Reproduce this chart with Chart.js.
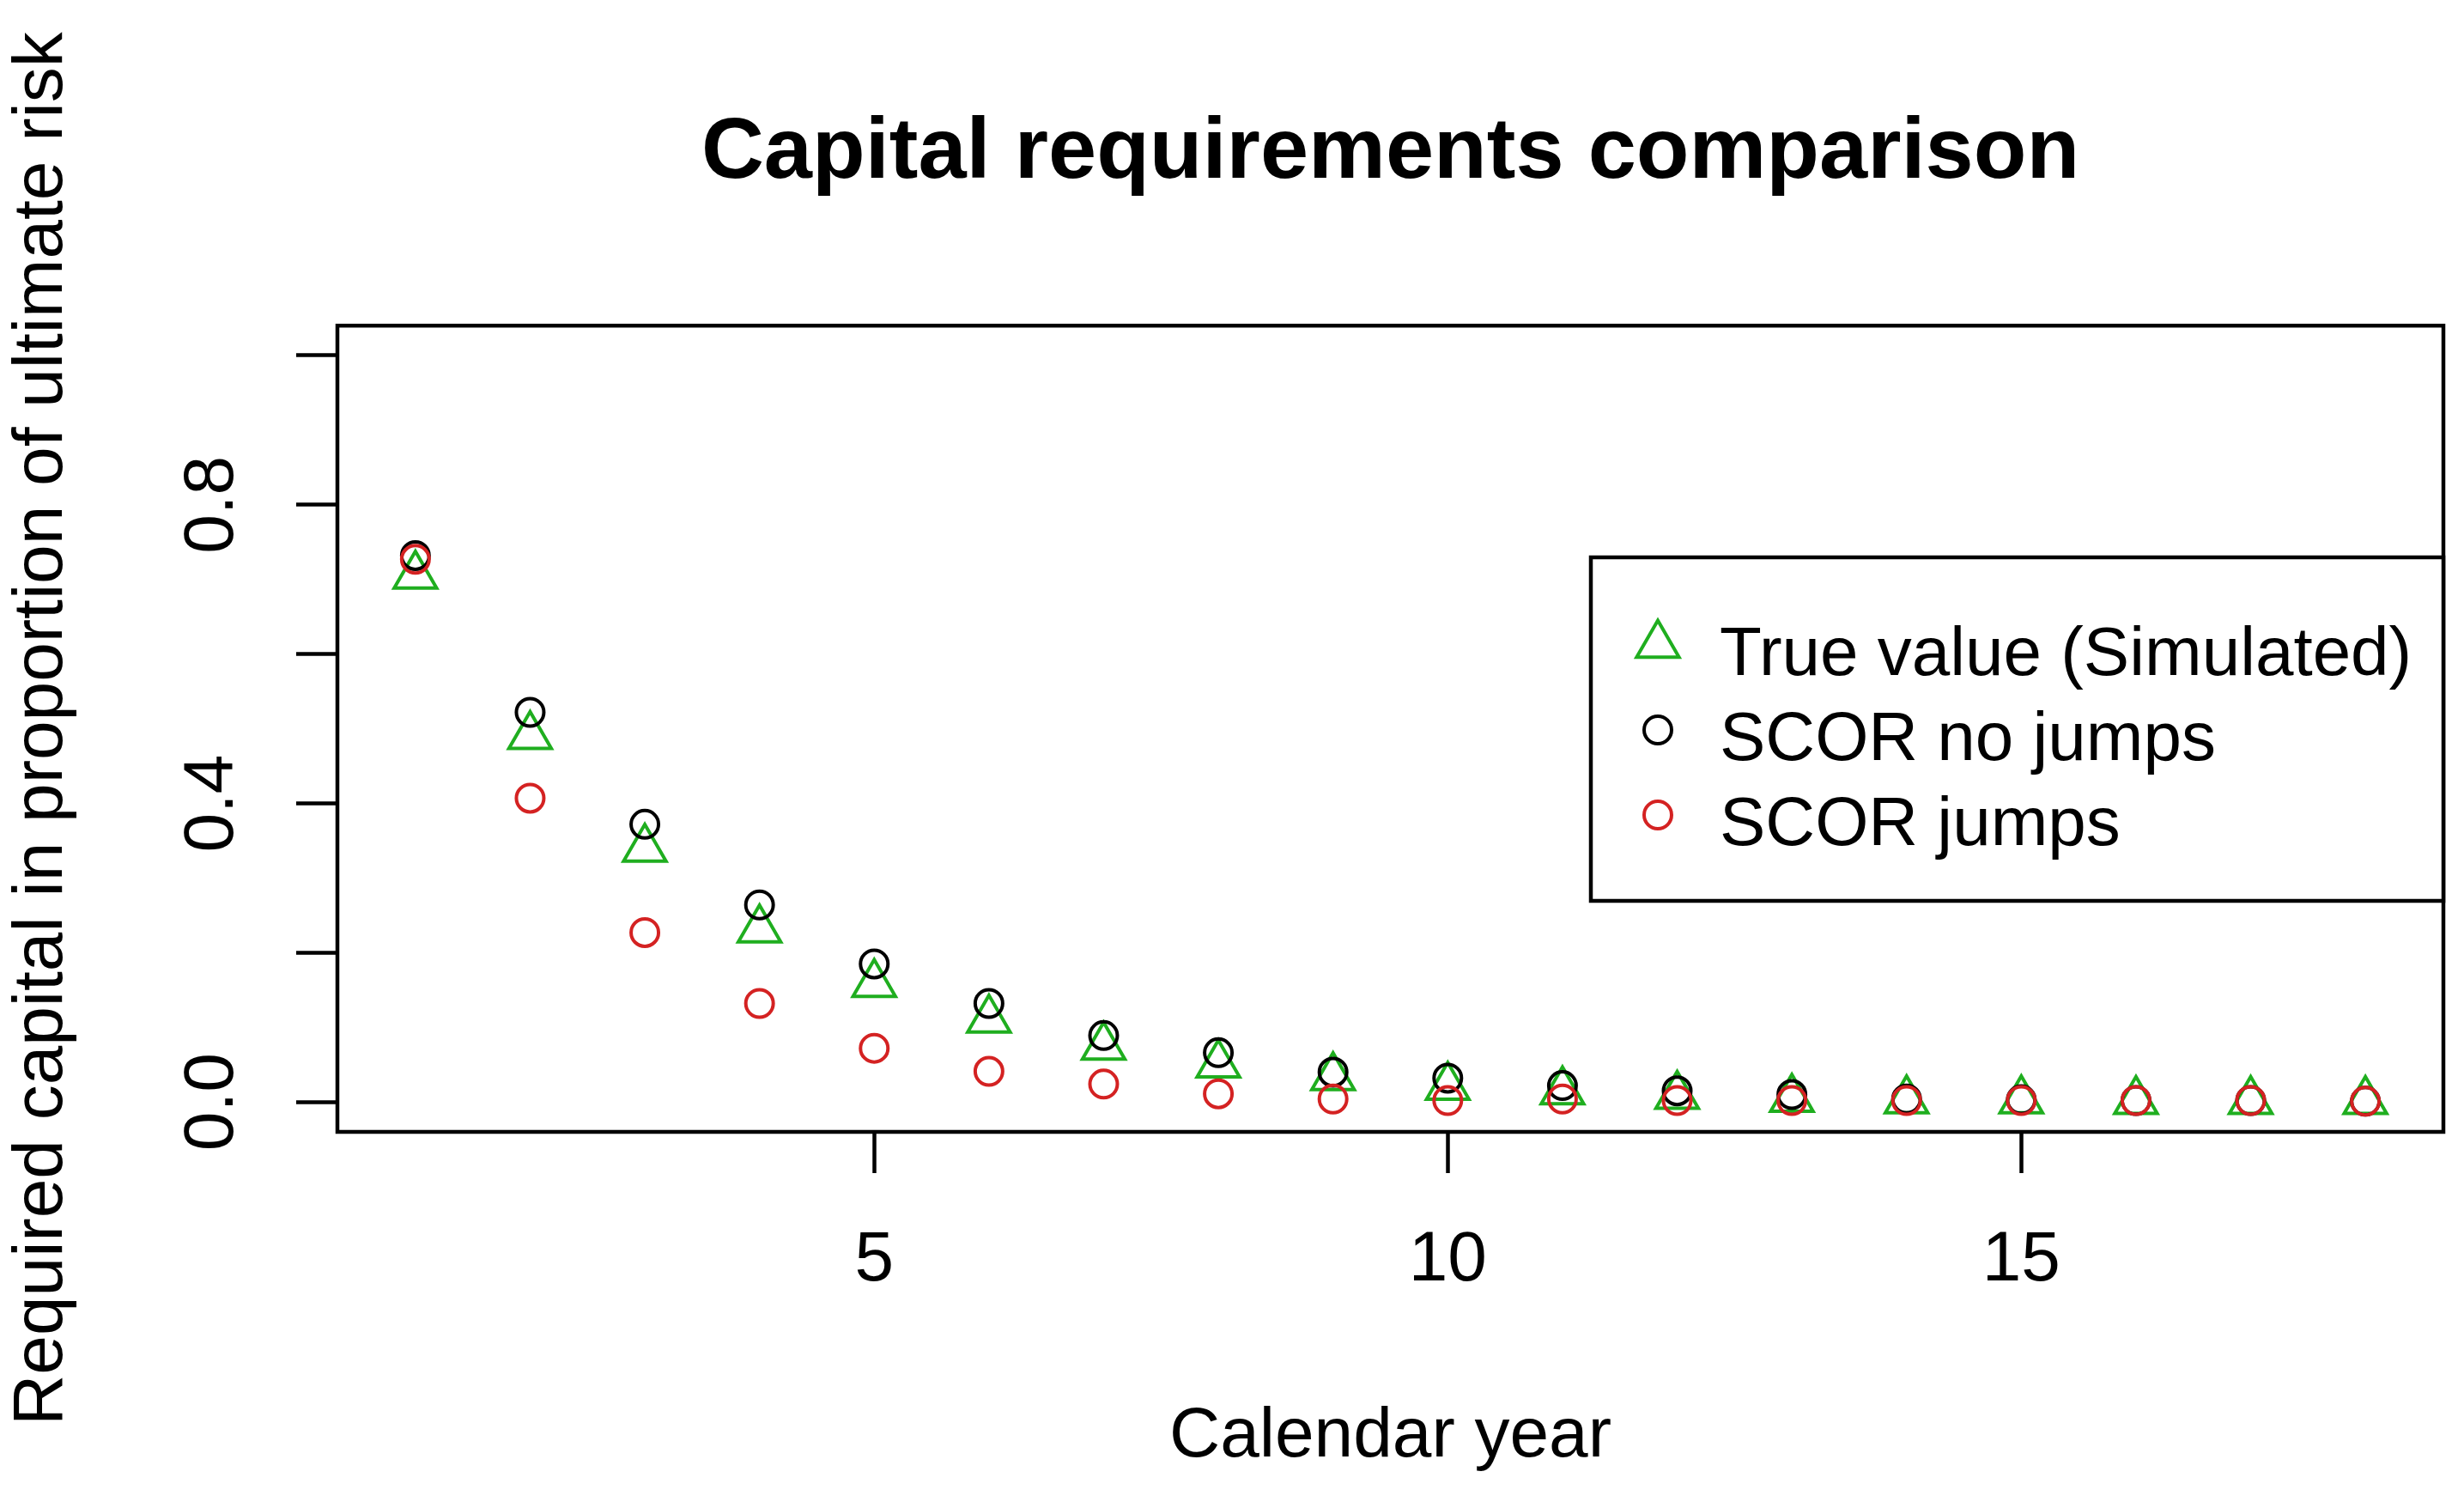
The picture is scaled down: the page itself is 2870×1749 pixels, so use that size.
<!DOCTYPE html>
<html>
<head>
<meta charset="utf-8">
<title>Capital requirements comparison</title>
<script src="https://cdn.jsdelivr.net/npm/chart.js@4.4.1/dist/chart.umd.min.js"></script>
<style>
  html, body { margin: 0; padding: 0; background: #fff; }
  #wrap { width: 2870px; height: 1749px; }
</style>
</head>
<body>
<div id="wrap"><canvas id="grafico-capital" width="2870" height="1749"></canvas></div>
<script>
// valores
const years = [1, 2, 3, 4, 5, 6, 7, 8, 9, 10, 11, 12, 13, 14, 15, 16, 17, 18];
const trueValue = [0.705, 0.490, 0.339, 0.231, 0.158, 0.110, 0.074, 0.050, 0.033, 0.020, 0.014, 0.008, 0.004, 0.002, 0.002, 0.001, 0.001, 0.001];
const scorNoJumps = [0.732, 0.522, 0.372, 0.264, 0.185, 0.132, 0.089, 0.066, 0.040, 0.032, 0.022, 0.015, 0.010, 0.004, 0.003, 0.002, 0.002, 0.001];
const scorJumps = [0.727, 0.407, 0.227, 0.132, 0.072, 0.041, 0.024, 0.011, 0.004, 0.002, 0.004, 0.002, 0.002, 0.002, 0.002, 0.002, 0.002, 0.001];
const seriesLabels = ['True value (Simulated)', 'SCOR no jumps', 'SCOR jumps'];
const xTicks = [5, 10, 15];
const yTicks = [0, 0.2, 0.4, 0.6, 0.8, 1.0];
const yTickLabels = ['0.0', '', '0.4', '', '0.8', ''];

const GREEN = '#1fae1f';
const RED = '#d42222';
const FONT = "'Liberation Sans', Arial, sans-serif";

function toPoints(values) {
  return years.map((x, i) => ({ x: x, y: values[i] }));
}

// moldura do gráfico (box() do R)
const plotBox = {
  id: 'plotBox',
  afterDraw(chart) {
    const { ctx, chartArea: a } = chart;
    ctx.save();
    ctx.strokeStyle = '#000';
    ctx.lineWidth = 4.5;
    ctx.strokeRect(a.left, a.top, a.right - a.left, a.bottom - a.top);
    ctx.restore();
  }
};

// legenda dentro do gráfico, com borda
const boxLegend = {
  id: 'boxLegend',
  afterDraw(chart) {
    const ctx = chart.ctx;
    const a = chart.chartArea;
    const left = 1853, top = 649, right = a.right, bottom = 1049;
    ctx.save();
    ctx.fillStyle = '#fff';
    ctx.fillRect(left, top, right - left, bottom - top);
    ctx.strokeStyle = '#000';
    ctx.lineWidth = 4.5;
    ctx.strokeRect(left, top, right - left, bottom - top);

    chart.data.datasets.forEach((ds, i) => {
      const base = 786 + i * 99;
      const mx = 1931, my = base - 35;
      ctx.strokeStyle = ds.borderColor;
      ctx.lineWidth = ds.borderWidth;
      ctx.beginPath();
      if (ds.pointStyle === 'triangle') {
        const r = ds.pointRadius;
        ctx.moveTo(mx, my - r);
        ctx.lineTo(mx + r * Math.sqrt(3) / 2, my + r / 2);
        ctx.lineTo(mx - r * Math.sqrt(3) / 2, my + r / 2);
        ctx.closePath();
      } else {
        ctx.arc(mx, my, ds.pointRadius, 0, Math.PI * 2);
      }
      ctx.stroke();

      ctx.fillStyle = '#000';
      ctx.font = '80px ' + FONT;
      ctx.textAlign = 'left';
      ctx.textBaseline = 'alphabetic';
      ctx.fillText(ds.label, 2003, base);
    });
    ctx.restore();
  }
};

new Chart(document.getElementById('grafico-capital'), {
  type: 'scatter',
  data: {
    datasets: [
      {
        label: seriesLabels[0],
        data: toPoints(trueValue),
        pointStyle: 'triangle',
        pointRadius: 28.5,
        borderColor: GREEN,
        backgroundColor: 'rgba(0,0,0,0)',
        borderWidth: 4,
        order: 3
      },
      {
        label: seriesLabels[1],
        data: toPoints(scorNoJumps),
        pointStyle: 'circle',
        pointRadius: 16,
        borderColor: '#000',
        backgroundColor: 'rgba(0,0,0,0)',
        borderWidth: 4,
        order: 2
      },
      {
        label: seriesLabels[2],
        data: toPoints(scorJumps),
        pointStyle: 'circle',
        pointRadius: 16,
        borderColor: RED,
        backgroundColor: 'rgba(0,0,0,0)',
        borderWidth: 4,
        order: 1
      }
    ]
  },
  options: {
    responsive: false,
    animation: false,
    devicePixelRatio: 1,
    layout: { autoPadding: false, padding: { top: 0, left: 0, right: 24, bottom: 0 } },
    plugins: {
      legend: { display: false },
      tooltip: { enabled: false },
      title: {
        display: true,
        text: 'Capital requirements comparison',
        fullSize: false,
        color: '#000',
        font: { family: FONT, size: 101, weight: 'bold', lineHeight: 1.2 },
        padding: { top: 119, bottom: 139 }
      }
    },
    scales: {
      x: {
        type: 'linear',
        position: 'bottom',
        min: 0.32,
        max: 18.68,
        afterBuildTicks: (scale) => { scale.ticks = xTicks.map(v => ({ value: v })); },
        afterFit: (scale) => { scale.height = 431; },
        border: { display: false },
        grid: { drawOnChartArea: false, drawTicks: true, tickLength: 48, tickWidth: 4.5, tickColor: '#000' },
        ticks: {
          autoSkip: false,
          color: '#000',
          padding: 53,
          font: { family: FONT, size: 82, lineHeight: 1.2 },
          callback: (v) => String(v)
        },
        title: {
          display: true,
          text: 'Calendar year',
          color: '#000',
          font: { family: FONT, size: 82, lineHeight: 1.2 },
          padding: { top: 0, bottom: 26 }
        }
      },
      y: {
        type: 'linear',
        position: 'left',
        min: -0.04,
        max: 1.04,
        afterBuildTicks: (scale) => { scale.ticks = yTicks.map(v => ({ value: v })); },
        afterFit: (scale) => { scale.width = 393; },
        border: { display: false },
        grid: { drawOnChartArea: false, drawTicks: true, tickLength: 48, tickWidth: 4.5, tickColor: '#000' },
        ticks: {
          autoSkip: false,
          color: '#000',
          minRotation: 90,
          maxRotation: 90,
          crossAlign: 'center',
          padding: 40,
          font: { family: FONT, size: 82, lineHeight: 1.2 },
          callback: (v, i) => yTickLabels[i]
        },
        title: {
          display: true,
          text: 'Required capital in proportion of ultimate risk',
          color: '#000',
          font: { family: FONT, size: 82, lineHeight: 1.2 },
          padding: { top: 0, bottom: 0 }
        }
      }
    }
  },
  plugins: [plotBox, boxLegend]
});
</script>
</body>
</html>
